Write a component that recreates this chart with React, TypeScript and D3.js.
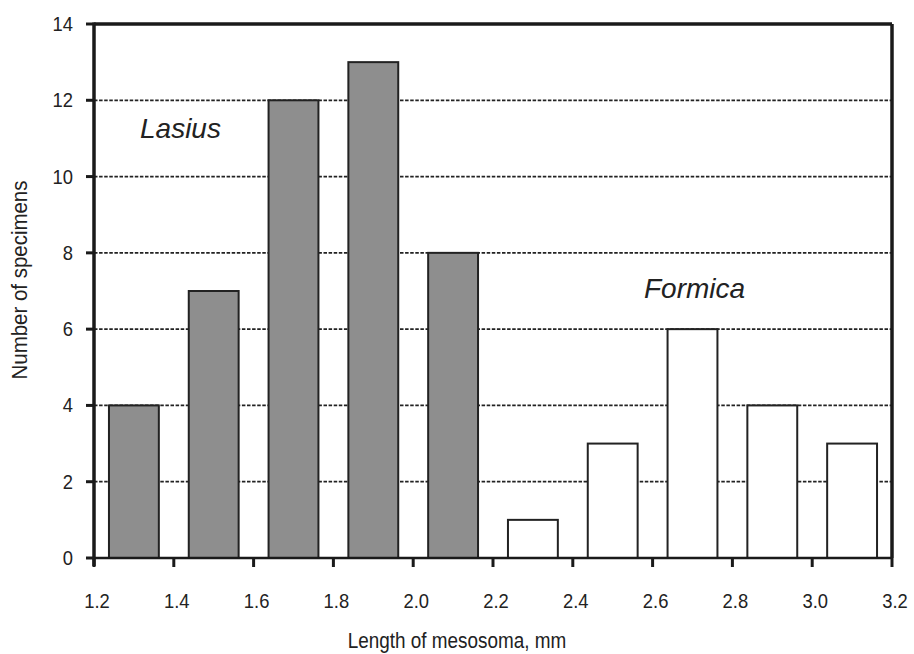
import React from 'react';
import * as d3 from 'd3';

const lasiusBins = [1.3, 1.5, 1.7, 1.9, 2.1];
const lasiusCounts = [4, 7, 12, 13, 8];
const formicaBins = [2.3, 2.5, 2.7, 2.9, 3.1];
const formicaCounts = [1, 3, 6, 4, 3];
const xTicks = [1.2, 1.4, 1.6, 1.8, 2.0, 2.2, 2.4, 2.6, 2.8, 3.0, 3.2];
const yTicks = [0, 2, 4, 6, 8, 10, 12, 14];

const width = 914;
const height = 654;
const margin = { top: 24, right: 22, bottom: 96, left: 94 };
const barHalf = 0.0625;
const textColor = '#222';
const font = '"Liberation Sans", Arial, sans-serif';

// narrow-ish text like the original figure
const Label = ({ x, y, sx = 1, size, anchor = 'start', rotate = 0, italic = false, children }) => (
    <g transform={`translate(${x},${y}) rotate(${rotate}) scale(${sx},1)`}>
        <text textAnchor={anchor} fontFamily={font} fontSize={size}
            fontStyle={italic ? 'italic' : 'normal'} fill={textColor}>{children}</text>
    </g>
);

const App = () => {
    const x = d3.scaleLinear().domain([1.2, 3.2]).range([margin.left, width - margin.right]);
    const y = d3.scaleLinear().domain([0, 14]).range([height - margin.bottom, margin.top]);

    const x0 = x.range()[0];
    const x1 = x.range()[1];
    const yb = y(0);
    const yt = y(14);

    const bars = [
        ...lasiusBins.map((b, i) => ({ bin: b, count: lasiusCounts[i], fill: '#8e8e8e' })),
        ...formicaBins.map((b, i) => ({ bin: b, count: formicaCounts[i], fill: '#ffffff' })),
    ];

    return (
        <svg width={width} height={height} style={{ position: 'absolute', left: 0, top: 0 }}>
            <rect width={width} height={height} fill="#fff" />
            {/* gridlines */}
            {yTicks.filter((t) => t > 0 && t < 14).map((t) => (
                <line key={'g' + t} x1={x0} x2={x1} y1={y(t)} y2={y(t)}
                    stroke="#222" strokeWidth={1.8} strokeDasharray="3.5,1.6" />
            ))}
            {/* bars */}
            {bars.map((d) => (
                <rect key={'b' + d.bin}
                    x={x(d.bin - barHalf)}
                    y={y(d.count)}
                    width={x(d.bin + barHalf) - x(d.bin - barHalf)}
                    height={yb - y(d.count)}
                    fill={d.fill}
                    stroke="#222"
                    strokeWidth={2} />
            ))}
            {/* frame */}
            <line x1={x0} x2={x1} y1={yt} y2={yt} stroke="#1a1a1a" strokeWidth={3.5} />
            <line x1={x1} x2={x1} y1={yt} y2={yb} stroke="#1a1a1a" strokeWidth={3.5} />
            <line x1={x0} x2={x1} y1={yb} y2={yb} stroke="#1a1a1a" strokeWidth={2.5} />
            <line x1={x0} x2={x0} y1={yt - 1.5} y2={yb + 8} stroke="#1a1a1a" strokeWidth={3.5} />
            {/* y ticks */}
            {yTicks.map((t) => (
                <g key={'y' + t}>
                    <line x1={x0 - 8} x2={x0} y1={y(t)} y2={y(t)} stroke="#1a1a1a" strokeWidth={3} />
                    <Label x={x0 - 21} y={y(t) + 7} sx={0.92} size={20} anchor="end">{t}</Label>
                </g>
            ))}
            {/* x ticks */}
            {xTicks.map((t) => (
                <g key={'x' + t}>
                    <line x1={x(t)} x2={x(t)} y1={yb} y2={yb + 9} stroke="#1a1a1a" strokeWidth={3} />
                    <Label x={x(t) + 3} y={yb + 50} sx={0.92} size={20} anchor="middle">{t.toFixed(1)}</Label>
                </g>
            ))}
            {/* axis titles */}
            <Label x={457} y={648} sx={0.86} size={22} anchor="middle">Length of mesosoma, mm</Label>
            <Label x={27} y={280} sx={0.93} size={22} anchor="middle" rotate={-90}>Number of specimens</Label>
            {/* species labels */}
            <Label x={140} y={138} size={28} italic>Lasius</Label>
            <Label x={644} y={298} size={28} italic>Formica</Label>
        </svg>
    );
};

export default App;
